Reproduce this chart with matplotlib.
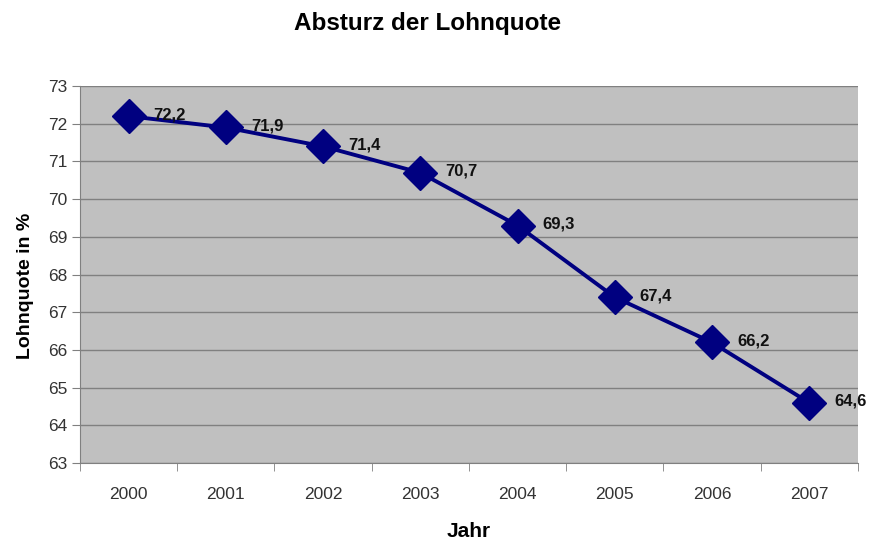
import matplotlib.pyplot as plt

plt.rcParams['font.family'] = ['Liberation Sans', 'DejaVu Sans']

jahre = ['2000', '2001', '2002', '2003', '2004', '2005', '2006', '2007']
lohnquote = [72.2, 71.9, 71.4, 70.7, 69.3, 67.4, 66.2, 64.6]
labels = ['72,2', '71,9', '71,4', '70,7', '69,3', '67,4', '66,2', '64,6']

fig = plt.figure(figsize=(8.7, 5.41), dpi=100)
ax = fig.add_axes([0.092, 0.144, 0.894, 0.697])
ax.set_facecolor('#c0c0c0')

x = list(range(len(jahre)))
ax.plot(x, lohnquote, color='#000080', linewidth=2.8, marker='D',
        markersize=17.5, markerfacecolor='#000080', markeredgecolor='#000080', zorder=3)

for xi, yi, lab in zip(x, lohnquote, labels):
    ax.annotate(lab, (xi, yi), xytext=(18, 1), textcoords='offset points',
                fontsize=12, fontweight='bold', color='#111111', va='center', ha='left',
                zorder=4, annotation_clip=False)

ax.set_xlim(-0.5, 7.5)
ax.set_ylim(63, 73)
ax.set_yticks(range(63, 74))
ax.set_xticks(x)
ax.set_xticklabels(jahre)
ax.set_xticks([i + 0.5 for i in range(-1, 8)], minor=True)
ax.tick_params(axis='x', which='major', length=0, pad=17.5, labelsize=12.5, labelcolor='#333333')
ax.tick_params(axis='x', which='minor', length=6, color='#808080', direction='out')
ax.tick_params(axis='y', length=6, color='#808080', labelsize=12.5, labelcolor='#333333', pad=3)

ax.grid(axis='y', color='#808080', linewidth=1)
ax.set_axisbelow(True)
for s in ['top', 'right']:
    ax.spines[s].set_visible(False)
for s in ['left', 'bottom']:
    ax.spines[s].set_color('#808080')

ax.set_xlabel('Jahr', fontsize=15, fontweight='bold', labelpad=14)
ax.set_ylabel('Lohnquote in %', fontsize=14, fontweight='bold', labelpad=10, y=0.47)
fig.text(0.492, 0.957, 'Absturz der Lohnquote', ha='center', va='center',
         fontsize=17.5, fontweight='bold')

fig.savefig('out.png', dpi=100)
